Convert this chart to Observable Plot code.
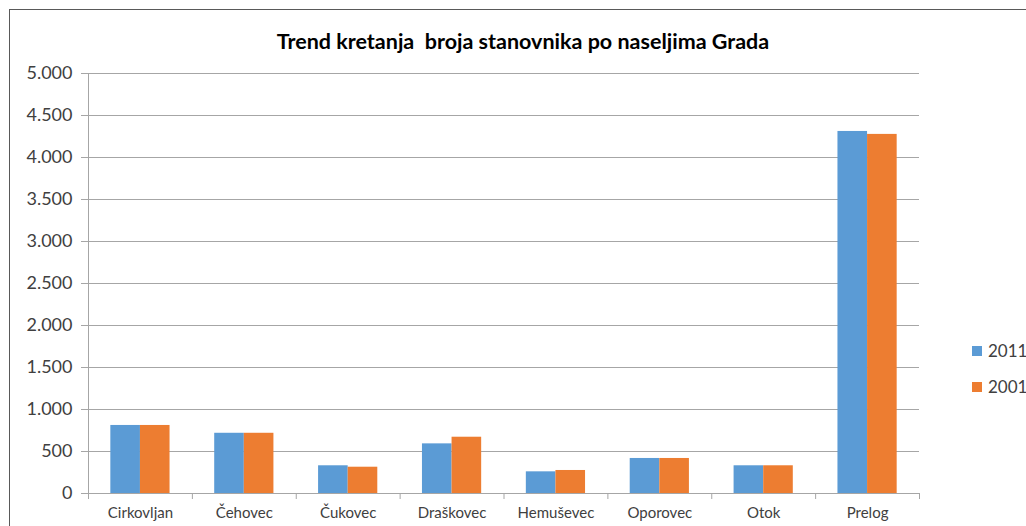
<!DOCTYPE html>
<html>
<head>
<meta charset="utf-8">
<script src="https://cdn.jsdelivr.net/npm/d3@7"></script>
<script src="https://cdn.jsdelivr.net/npm/@observablehq/plot@0.6"></script>
<style>
  html, body { margin: 0; padding: 0; background: #fff; overflow: hidden; }
  #wrap { position: relative; width: 1026px; height: 526px; overflow: hidden; font-family: Lato, "Open Sans", sans-serif; }
  #frame { position: absolute; left: 9px; top: 9px; width: 1100px; height: 600px; border: 1px solid #595959; box-sizing: border-box; }
  #title { position: absolute; left: 0; width: 1046px; top: 28px; text-align: center; font-weight: bold; font-size: 21.5px; color: #000; white-space: pre; }
  #chart { position: absolute; left: 0; top: 0; }
  .leg { position: absolute; left: 972px; font-size: 17px; color: #404040; display: flex; align-items: center; white-space: nowrap; }
  .leg span.sw { display: inline-block; width: 10px; height: 10px; margin-right: 6px; }
</style>
</head>
<body>
<div id="wrap">
  <div id="frame"></div>
  <div id="chart"></div>
  <div id="title">Trend kretanja  broja stanovnika po naseljima Grada</div>
  <div id="legend"></div>
</div>
<script>
const categories = ["Cirkovljan", "Čehovec", "Čukovec", "Draškovec", "Hemuševec", "Oporovec", "Otok", "Prelog"];
const series = ["2011", "2001"];
const values2011 = [810, 717, 330, 591, 258, 417, 330, 4310];
const values2001 = [810, 717, 313, 670, 274, 417, 330, 4275];
const yTicks = [0, 500, 1000, 1500, 2000, 2500, 3000, 3500, 4000, 4500, 5000];
const colors = ["#5B9BD5", "#ED7D31"];

const W = 1026, H = 526;
const mL = 88, mR = 107, mT = 73, mB = 33;
const step = (W - mL - mR) / categories.length;
const outer = step * 0.215;
const barW = step * (1 - 0.43) / 2;

const d2011 = categories.map((c, i) => ({name: c, value: values2011[i]}));
const d2001 = categories.map((c, i) => ({name: c, value: values2001[i]}));

const fmt = d3.formatLocale({decimal: ",", thousands: ".", grouping: [3], currency: ["", ""]}).format(",d");
const grid = "#a6a6a6";

const chart = Plot.plot({
  width: W, height: H,
  marginLeft: mL, marginRight: mR, marginTop: mT, marginBottom: mB,
  style: {fontFamily: "Lato, 'Open Sans', sans-serif", background: "transparent", color: "#404040"},
  x: {type: "band", domain: categories, padding: 0, round: false, axis: null},
  y: {domain: [0, 5000], axis: null},
  marks: [
    Plot.ruleY(yTicks, {stroke: grid, strokeWidth: 1}),
    Plot.ruleX([categories[0]], {dx: -step / 2, y1: 0, y2: 5000, stroke: grid}),
    Plot.axisY({ticks: yTicks, tickFormat: fmt, tickSize: 7, tickPadding: 9, stroke: grid, strokeOpacity: 1, fontSize: 18, fill: "#404040", label: null}),
    Plot.barY(d2011, {x: "name", y: "value", fill: colors[0], insetLeft: outer, insetRight: step - outer - barW}),
    Plot.barY(d2001, {x: "name", y: "value", fill: colors[1], insetLeft: step - outer - barW, insetRight: outer}),
    Plot.axisX({tickSize: 0, tickPadding: 14, fontSize: 15, fill: "#404040", label: null}),
    Plot.axisX({tickSize: 6, tickFormat: () => "", dx: -step / 2, stroke: grid, strokeOpacity: 1, label: null}),
    Plot.axisX({ticks: [categories[categories.length - 1]], tickSize: 6, tickFormat: () => "", dx: step / 2, stroke: grid, strokeOpacity: 1, label: null})
  ]
});
document.getElementById("chart").append(chart);

const legend = document.getElementById("legend");
const legTops = [340, 376];
series.forEach((s, i) => {
  const el = document.createElement("div");
  el.className = "leg";
  el.style.top = legTops[i] + "px";
  el.innerHTML = `<span class="sw" style="background:${colors[i]}"></span>${s}`;
  legend.append(el);
});
</script>
</body>
</html>
